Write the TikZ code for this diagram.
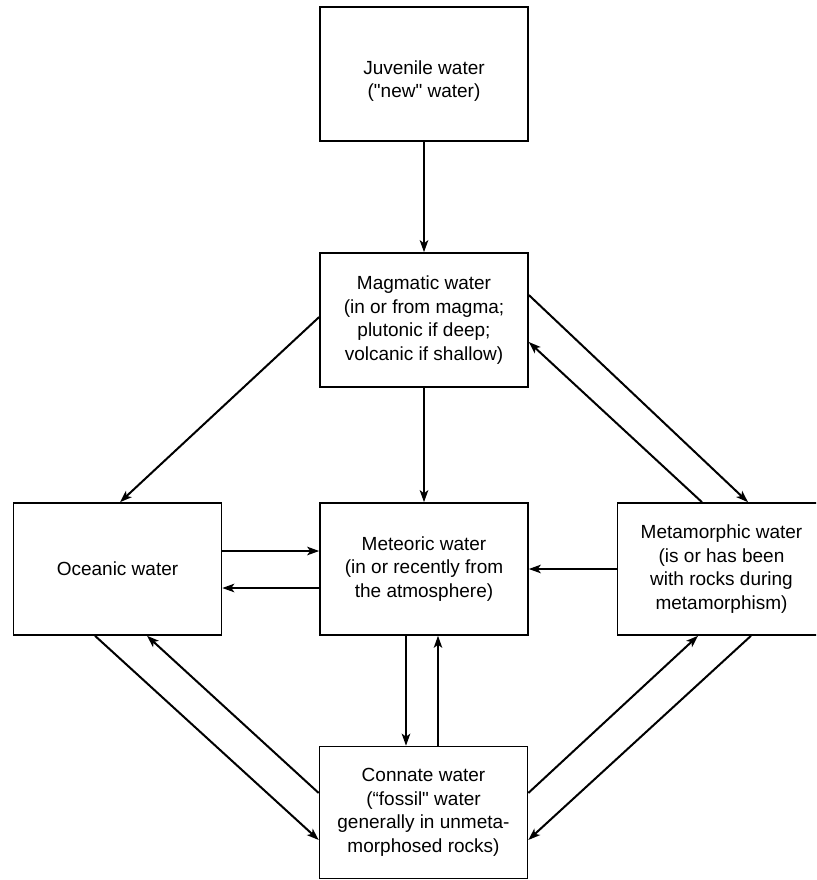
\documentclass[tikz,border=0pt]{standalone}
\usepackage{fontspec}
\setmainfont{Liberation Sans}
\usetikzlibrary{arrows.meta}
\begin{document}
\begin{tikzpicture}[x=1pt,y=-1pt,
  waterbox/.style={draw, line width=1.6pt, rectangle, align=center,
    minimum width=208pt, minimum height=132pt, inner sep=0pt,
    font=\fontsize{19}{23.5}\selectfont},
  flow/.style={line width=2pt, -{Stealth[length=12pt,width=8.5pt,inset=3pt]}}]
\useasboundingbox (0,0) rectangle (816,880);
\clip (0,0) rectangle (816,880);
\fill[white] (0,0) rectangle (816,880);

% water types
\node[waterbox, minimum height=134pt] (juv) at (424,74) {};
\node[font=\fontsize{19}{23.5}\selectfont, align=center] (juvtext) at (424,81)
  {Juvenile water\\(\textquotedbl new\textquotedbl{} water)};
\node[waterbox, minimum height=134pt] (mag) at (424,320)
  {Magmatic water\\(in or from magma;\\plutonic if deep;\\volcanic if shallow)};
\node[waterbox] (oce) at (117.5,569) {Oceanic water};
\node[waterbox] (met) at (424,569) {Meteoric water\\(in or recently from\\the atmosphere)};
\node[waterbox] (mor) at (721.5,569) {Metamorphic water\\(is or has been\\with rocks during\\metamorphism)};
\node[waterbox] (con) at (423.5,812.5) {Connate water\\(“fossil\textquotedbl{} water\\generally in unmeta-\\morphosed rocks)};

% transfers between them
\draw[flow] (juv.south) -- (mag.north);
\draw[flow] (mag.south) -- (met.north);
\draw[flow] ([yshift=3pt]mag.west) -- ([xshift=2.5pt]oce.north);
\draw[flow] ([yshift=25pt]mag.east) -- ([xshift=26.5pt]mor.north);
\draw[flow] ([xshift=-19.5pt]mor.north) -- ([yshift=-22pt]mag.east);
\draw[flow] ([yshift=18pt]oce.east) -- ([yshift=18pt]met.west);
\draw[flow] ([yshift=-19pt]met.west) -- ([yshift=-19pt]oce.east);
\draw[flow] (mor.west) -- (met.east);
\draw[flow] ([xshift=-18pt]met.south) -- ([xshift=-17.5pt]con.north);
\draw[flow, line width=1.5pt] ([xshift=14.5pt]con.north) -- ([xshift=14pt]met.south);
\draw[flow] ([xshift=-22.5pt]oce.south) -- ([yshift=-27.5pt]con.west);
\draw[flow] ([yshift=19.5pt]con.west) -- ([xshift=29.5pt]oce.south);
\draw[flow] ([yshift=19.5pt]con.east) -- ([xshift=-23.5pt]mor.south);
\draw[flow] ([xshift=29.5pt]mor.south) -- ([yshift=-27.5pt]con.east);
\end{tikzpicture}
\end{document}
